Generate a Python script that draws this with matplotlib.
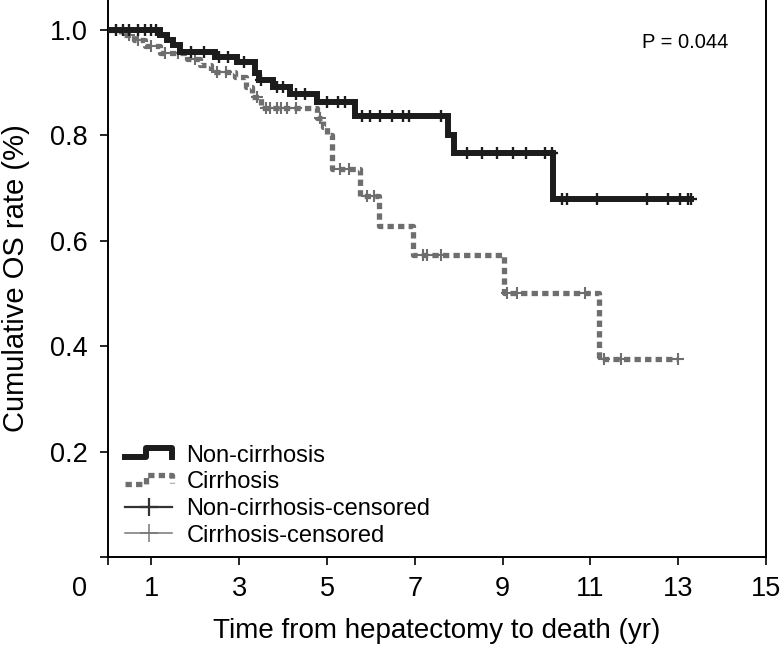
import numpy as np
import matplotlib
matplotlib.use('Agg')
import matplotlib.pyplot as plt
from matplotlib.lines import Line2D
from matplotlib.legend_handler import HandlerBase
from matplotlib.transforms import ScaledTranslation

plt.rcParams['font.family'] = ['Liberation Sans', 'DejaVu Sans']

# Kaplan-Meier steps (years, survival)
non_times = [0, 1.2, 1.35, 1.5, 1.65, 2.45, 2.95, 3.35, 3.45, 3.76, 4.15, 4.78, 5.63, 7.75, 7.9, 10.14]
non_surv = [1.0, 0.99, 0.98, 0.97, 0.958, 0.948, 0.938, 0.918, 0.905, 0.892, 0.877, 0.862, 0.836, 0.80, 0.766, 0.679]
non_end = 13.3
non_cens = [0.2, 0.35, 0.5, 0.7, 0.85, 1.0, 1.1, 1.9, 2.2, 2.55, 2.75, 3.1, 3.5, 3.85, 4.0, 4.3, 4.5,
            5.0, 5.24, 5.4, 5.8, 5.97, 6.2, 6.47, 6.73, 6.86, 7.6, 8.2, 8.53, 8.87, 9.23, 9.53, 9.96,
            10.12, 10.35, 10.46, 11.15, 12.29, 12.77, 13.04, 13.22, 13.3]

cir_times = [0, 0.3, 0.6, 0.85, 1.2, 1.8, 2.1, 2.35, 2.9, 3.15, 3.3, 3.5, 4.78, 4.9, 5.0, 5.12,
             5.75, 6.18, 6.96, 9.03, 11.19]
cir_surv = [1.0, 0.99, 0.98, 0.968, 0.955, 0.945, 0.932, 0.92, 0.91, 0.892, 0.873, 0.852, 0.833,
            0.815, 0.80, 0.736, 0.685, 0.628, 0.572, 0.50, 0.375]
cir_end = 13.0
cir_cens = [0.2, 0.5, 0.7, 1.0, 1.3, 1.6, 2.0, 2.5, 2.7, 3.4, 3.6, 3.7, 3.85, 3.95, 4.1, 4.3, 4.85,
            5.3, 5.5, 5.9, 6.08, 7.18, 7.27, 7.6, 9.1, 9.33, 10.87, 11.3, 11.7, 13.0]

xticks = [0, 1, 3, 5, 7, 9, 11, 13, 15]
yticks = [0, 0.2, 0.4, 0.6, 0.8, 1.0]
p_text = 'P = 0.044'

BLACK = '#1c1c1c'
GRAY = '#6e6e6e'


def surv_at(times, surv, t):
    idx = np.searchsorted(times, t, side='right') - 1
    return np.array(surv)[idx]


class StepHandler(HandlerBase):
    def create_artists(self, legend, orig_handle, xdescent, ydescent, width, height, fontsize, trans):
        x0, y0 = -xdescent, -ydescent
        xs = [x0, x0 + 0.45 * width, x0 + 0.45 * width, x0 + width, x0 + width]
        ys = [y0 + 0.25 * height, y0 + 0.25 * height, y0 + 0.8 * height, y0 + 0.8 * height, y0 + 0.3 * height]
        line = Line2D(xs, ys)
        self.update_prop(line, orig_handle, legend)
        line.set_transform(trans)
        return [line]


fig = plt.figure(figsize=(7.82, 6.5), dpi=100)
ax = fig.add_axes([0.1375, 0.143, 0.842, 0.857])

# non-cirrhosis
ax.step(non_times + [non_end], non_surv + [non_surv[-1]], where='post', color=BLACK, lw=4.3,
        solid_joinstyle='miter', zorder=3)
ax.plot(non_cens, surv_at(non_times, non_surv, non_cens), ls='none', marker='+', ms=8.5,
        mew=1.7, color=BLACK, zorder=4)

# cirrhosis
ax.step(cir_times + [cir_end], cir_surv + [cir_surv[-1]], where='post', color=GRAY, lw=3.8,
        ls=(0, (1.2, 0.8)), dash_capstyle='butt', zorder=2)
ax.plot(cir_cens, surv_at(cir_times, cir_surv, cir_cens), ls='none', marker='+', ms=8.5,
        mew=1.5, color=GRAY, zorder=2)

ax.set_xlim(0, 15)
ax.set_ylim(0, 1.056)
ax.set_xticks(xticks)
ax.set_xticklabels([str(v) for v in xticks])
ax.set_yticks(yticks)
ax.set_yticklabels([''] + ['%.1f' % v for v in yticks[1:]])
ax.tick_params(direction='out', length=6, width=1.2, labelsize=19.5, pad=8)
lab0 = ax.get_xticklabels()[0]
lab0.set_transform(lab0.get_transform() + ScaledTranslation(-0.28, 0, fig.dpi_scale_trans))

for s in ['left', 'right', 'bottom']:
    ax.spines[s].set_linewidth(1.4)
ax.spines['top'].set_visible(False)

ax.set_xlabel('Time from hepatectomy to death (yr)', fontsize=20)
ax.set_ylabel('Cumulative OS rate (%)', fontsize=21)
ax.xaxis.set_label_coords(0.5, -0.11)
ax.yaxis.set_label_coords(-0.117, 0.5)

ax.text(13.15, 0.976, p_text, ha='center', va='center', fontsize=14.5)

h1 = Line2D([], [], color=BLACK, lw=4.3)
h2 = Line2D([], [], color=GRAY, lw=3.8, ls=(0, (1.2, 0.8)))
h3 = Line2D([], [], color='#333333', lw=1.6, marker='+', ms=13, mew=1.6)
h4 = Line2D([], [], color='#777777', lw=1.1, marker='+', ms=13, mew=1.1)
ax.legend([h1, h2, h3, h4],
          ['Non-cirrhosis', 'Cirrhosis', 'Non-cirrhosis-censored', 'Cirrhosis-censored'],
          handler_map={h1: StepHandler(), h2: StepHandler()},
          loc='upper left', bbox_to_anchor=(0.0266, 0.202), frameon=False, fontsize=17,
          borderpad=0, borderaxespad=0, labelspacing=0.2, handlelength=2.0,
          handletextpad=0.6, markerfirst=True)

fig.savefig('out.png', dpi=100)
